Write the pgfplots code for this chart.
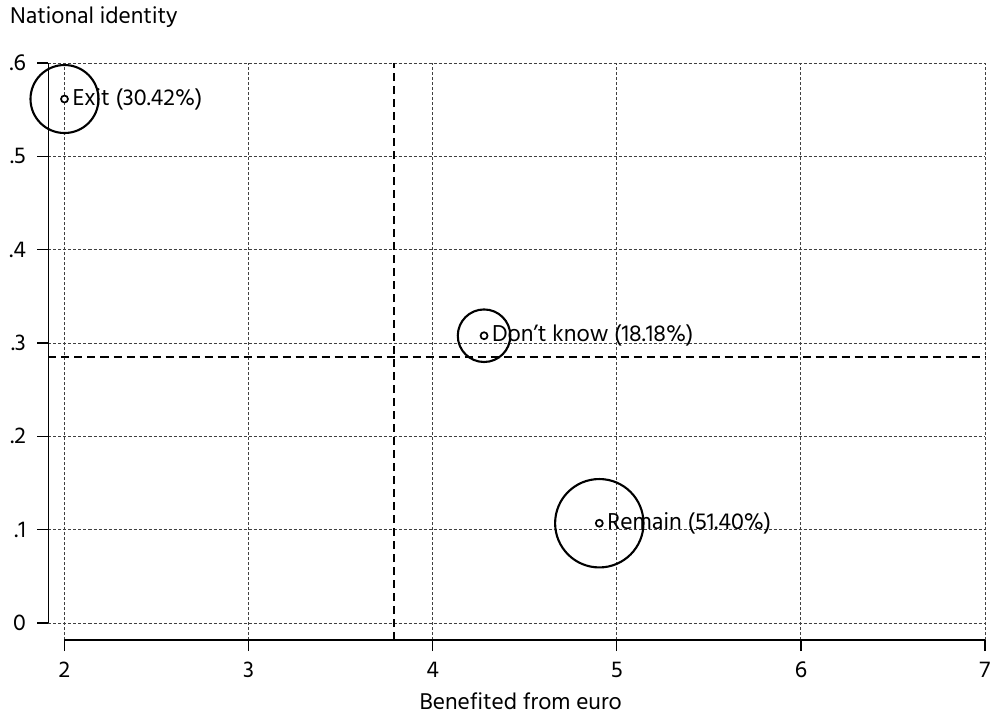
\documentclass[border=0pt]{standalone}
\usepackage{fontspec}
\setmainfont{Hind Madurai}
\usepackage{pgfplots}
\pgfplotsset{compat=1.18}
\begin{document}
\begin{tikzpicture}
\begin{axis}[
  at={(0pt,0pt)}, anchor=south west,
  scale only axis, width=468.25pt, height=288.5pt,
  xmin=1.9131, xmax=7, ymin=-0.01821, ymax=0.6,
  clip=false,
  xtick={2,3,4,5,6,7}, xticklabels={2,3,4,5,6,7},
  ytick={0,0.1,0.2,0.3,0.4,0.5,0.6}, yticklabels={0,.1,.2,.3,.4,.5,.6},
  xtick pos=bottom, ytick pos=left,
  axis line style={draw=none},
  tick align=outside, major tick length=5.5pt,
  tick style={black, line width=0.65pt},
  grid=major, grid style={black!75, line width=0.45pt, dash pattern=on 1.5pt off 1pt},
  /pgf/number format/assume math mode=true,
  ticklabel style={font=\fontsize{11.7}{14}\selectfont},
  xticklabel style={anchor=north, inner sep=0pt, yshift=-5.3pt},
  yticklabel style={anchor=east, inner sep=0pt, xshift=-5.6pt},
]
% axis lines (offset Stata style)
\addplot[black, line width=0.7pt] coordinates {(1.9131,0) (1.9131,0.6)};
\addplot[black, line width=0.7pt] coordinates {(2,-0.01821) (7,-0.01821)};
% reference lines (means)
\addplot[black, line width=0.9pt, dash pattern=on 4pt off 2.5pt] coordinates {(3.791,-0.01821) (3.791,0.6)};
\addplot[black, line width=0.9pt, dash pattern=on 4pt off 2.5pt] coordinates {(1.9131,0.285) (7,0.285)};
% weighted circles
\addplot[only marks, mark=o, mark size=17.0pt, mark options={black, line width=1.05pt}] coordinates {(2.0,0.5614)};
\addplot[only marks, mark=o, mark size=13.14pt, mark options={black, line width=1.05pt}] coordinates {(4.279,0.3078)};
\addplot[only marks, mark=o, mark size=22.1pt, mark options={black, line width=1.05pt}] coordinates {(4.905,0.1069)};
% centre markers with labels
\addplot[only marks, mark=*, mark size=1.75pt, mark options={draw=black, fill=white, line width=0.85pt},
  nodes near coords, point meta=explicit symbolic,
  nodes near coords style={anchor=west, inner sep=0pt, xshift=3.6pt, font=\fontsize{11.8}{14}\selectfont, text=black}]
  coordinates {(2.0,0.5614)[Exit (30.42\%)] (4.279,0.3078)[Don’t know (18.18\%)] (4.905,0.1069)[Remain (51.40\%)]};
\end{axis}
\node[anchor=base west, inner sep=0pt, font=\fontsize{11.7}{14}\selectfont] at (-19.4pt, 308pt) {National identity};
\node[anchor=base, inner sep=0pt, font=\fontsize{11.7}{14}\selectfont] at (236.1pt, -34.6pt) {Benefited from euro};
\pgfresetboundingbox
\path[use as bounding box] (-24.25pt,-37pt) rectangle (470.75pt,320pt);
\end{tikzpicture}
\end{document}
